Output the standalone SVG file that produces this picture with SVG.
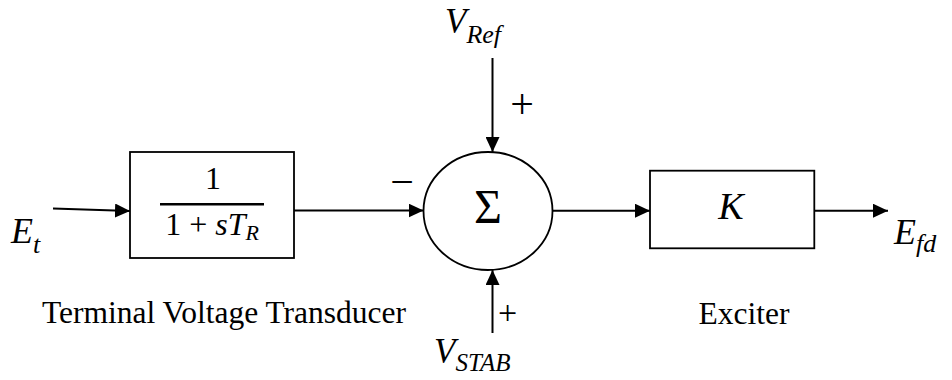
<svg xmlns="http://www.w3.org/2000/svg" width="952" height="380" viewBox="0 0 952 380">
  <defs>
    <style>
      .box { fill: #ffffff; stroke: #000000; stroke-width: 1.8; }
      .wire { fill: none; stroke: #000000; stroke-width: 2; }
      .math { font-family: "Liberation Serif", "Times New Roman", serif; font-style: italic; fill: #000000; }
      .up { font-family: "Liberation Serif", "Times New Roman", serif; font-style: normal; fill: #000000; }
      .label { font-family: "Liberation Serif", "Times New Roman", serif; font-size: 31.5px; fill: #000000; }
    </style>
    <marker id="arrow" markerUnits="userSpaceOnUse" markerWidth="16" markerHeight="14" refX="15" refY="7" orient="auto">
      <path d="M0,0 L15,7 L0,14 Z" fill="#000000"/>
    </marker>
  </defs>
  <rect width="952" height="380" fill="#ffffff"/>

  <g id="connectors">
    <line class="wire" x1="53" y1="208.5" x2="130" y2="211" marker-end="url(#arrow)"/>
    <line class="wire" x1="294" y1="210.5" x2="423.5" y2="210.5" marker-end="url(#arrow)"/>
    <line class="wire" x1="492.5" y1="58" x2="492.5" y2="152" marker-end="url(#arrow)"/>
    <line class="wire" x1="492.5" y1="333" x2="492.5" y2="270" marker-end="url(#arrow)"/>
    <line class="wire" x1="552.5" y1="210.7" x2="650" y2="210.7" marker-end="url(#arrow)"/>
    <line class="wire" x1="814" y1="210.7" x2="888" y2="210.7" marker-end="url(#arrow)"/>
  </g>

  <g id="input-Et">
    <text class="math" x="11" y="243" font-size="36">E<tspan font-size="26" dy="10">t</tspan></text>
  </g>

  <g id="transducer">
    <rect class="box" x="130" y="152" width="164" height="106"/>
    <text class="up" x="213" y="189" font-size="32" text-anchor="middle">1</text>
    <line x1="160" y1="204.3" x2="264" y2="204.3" stroke="#000000" stroke-width="2.6"/>
    <text class="up" x="212" y="235" font-size="32" text-anchor="middle">1<tspan dx="8">+</tspan><tspan class="math" dx="8">sT</tspan><tspan class="math" font-size="22" dy="5">R</tspan></text>
    <text class="label" x="224" y="323" text-anchor="middle">Terminal Voltage Transducer</text>
  </g>

  <g id="summing-junction">
    <ellipse cx="488" cy="211" rx="64.5" ry="59" fill="#ffffff" stroke="#000000" stroke-width="1.8"/>
    <text class="up" x="488" y="222.5" font-size="48" text-anchor="middle">Σ</text>
    <text class="up" x="402" y="196" font-size="42" text-anchor="middle">−</text>
    <text class="up" x="522" y="117.5" font-size="42" text-anchor="middle">+</text>
    <text class="up" x="507.5" y="323.5" font-size="34" text-anchor="middle">+</text>
  </g>

  <g id="input-Vref">
    <text class="math" x="445" y="33" font-size="35">V<tspan font-size="26" dy="10">Ref</tspan></text>
  </g>

  <g id="input-Vstab">
    <text class="math" x="434" y="363" font-size="35">V<tspan font-size="25" dy="8">STAB</tspan></text>
  </g>

  <g id="exciter">
    <rect class="box" x="650" y="170.7" width="164.3" height="77.6"/>
    <text class="math" x="731" y="219" font-size="38" text-anchor="middle">K</text>
    <text class="label" x="744" y="324" text-anchor="middle">Exciter</text>
  </g>

  <g id="output-Efd">
    <text class="math" x="894" y="244" font-size="36">E<tspan font-size="26" dy="8">fd</tspan></text>
  </g>
</svg>
